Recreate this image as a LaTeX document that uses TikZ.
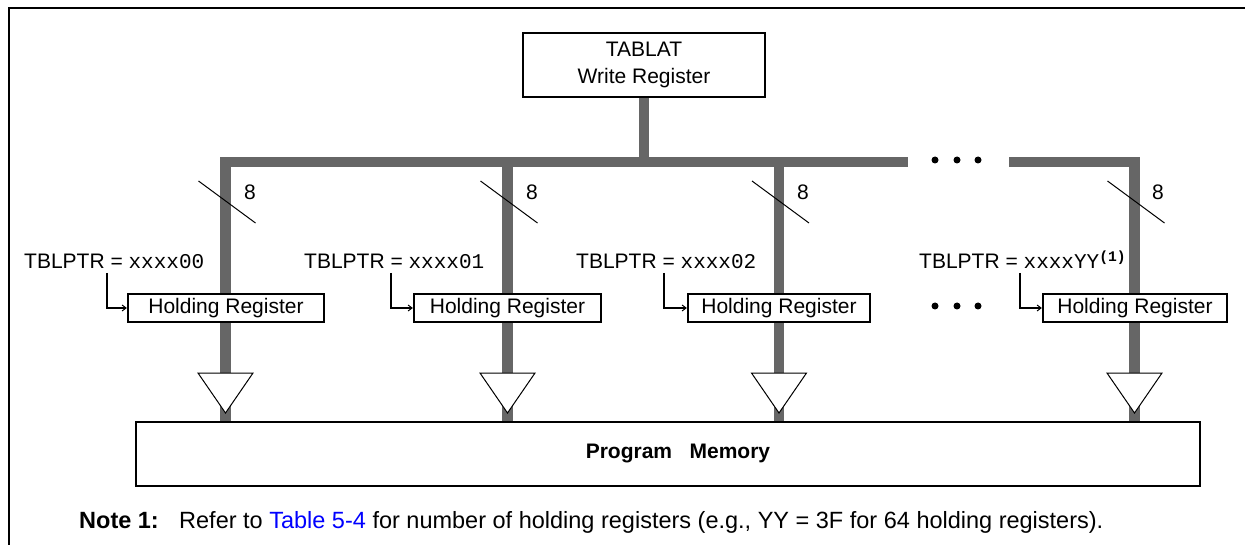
\documentclass[tikz,border=0pt]{standalone}
\usepackage{fontspec}
\setmainfont{Liberation Sans}
\setmonofont{Liberation Mono}
\usetikzlibrary{arrows.meta}
\definecolor{busgray}{HTML}{666666}
\definecolor{linkblue}{HTML}{0000FF}
\begin{document}
\begin{tikzpicture}[x=1pt,y=-1pt,
  every node/.style={font=\fontsize{21}{25}\selectfont, inner sep=0pt},
  bus/.style={draw=busgray, line width=10.5pt, line join=miter, line cap=butt},
  regbox/.style={draw, line width=2.2pt, fill=white, minimum height=28pt},
  drv/.style={draw, line width=1pt, fill=white, line join=miter},
  slashline/.style={draw, line width=1pt},
  ptr/.style={draw, line width=2pt, -{Straight Barb[length=4pt,width=6pt,line width=1pt]}},
  bigdot/.style={circle, fill=black, minimum size=7pt},
  frameline/.style={draw, line width=2.5pt},
  lbl/.style={anchor=base west},
  notelbl/.style={anchor=base west, font=\fontsize{23.5}{28}\selectfont}
]
\useasboundingbox (0,0) rectangle (1245,545);
% frame
\coordinate (fTL) at (9,8);
\coordinate (fTR) at (1245,8);
\coordinate (fBL) at (9,545);
\draw[frameline] (fTR) -- (fTL) -- (fBL);

% bus coordinates
\coordinate (j0) at (644,162);
\coordinate (c1) at (225.5,162);
\coordinate (c2) at (507.5,162);
\coordinate (c3) at (779,162);
\coordinate (c4) at (1134.5,162);
\coordinate (gL) at (908,162);
\coordinate (gR) at (1009,162);
\coordinate (m1) at (225.5,422);
\coordinate (m2) at (507.5,422);
\coordinate (m3) at (779,422);
\coordinate (m4) at (1134.5,422);
\coordinate (t0) at (644,97);

% buses
\draw[bus] (t0) -- (j0);
\draw[bus] (m1) -- (c1) -- (gL);
\draw[bus] (c2) -- (m2);
\draw[bus] (c3) -- (m3);
\draw[bus] (gR) -- (c4) -- (m4);

% TABLAT register
\node[regbox, minimum width=242pt, minimum height=64pt, align=center] (tab) at (644,65)
  {TABLAT\\[2pt]Write Register};

% holding registers
\node[regbox, minimum width=196pt] (hr1) at (226,308) {Holding Register};
\node[regbox, minimum width=187pt] (hr2) at (507.5,308) {Holding Register};
\node[regbox, minimum width=182pt] (hr3) at (779,308) {Holding Register};
\node[regbox, minimum width=184pt] (hr4) at (1135,308) {Holding Register};

% drivers (triangles)
\foreach \bx in {225.5,507.5,779,1134.5}{
  \draw[drv] (\bx-27.5,373) -- (\bx+27.5,373) -- (\bx,413) -- cycle;
  \draw[slashline] (\bx-27,181) -- (\bx+30,223);
}

% bus width labels
\node (w1) at (250,192.5) {8};
\node (w2) at (532,192.5) {8};
\node (w3) at (803,192.5) {8};
\node (w4) at (1158,192.5) {8};

% pointer labels
\node[lbl] (p1) at (24,269) {TBLPTR = \texttt{xxxx00}};
\node[lbl] (p2) at (304,269) {TBLPTR = \texttt{xxxx01}};
\node[lbl] (p3) at (576,269) {TBLPTR = \texttt{xxxx02}};
\node[lbl] (p4) at (919,269) {TBLPTR = \texttt{xxxxYY}\textsuperscript{\ttfamily\bfseries (1)}};

\coordinate (a1) at (107,273);
\coordinate (a2) at (391,273);
\coordinate (a3) at (664,273);
\coordinate (a4) at (1020,273);
\draw[ptr] (a1) |- (hr1.west);
\draw[ptr] (a2) |- (hr2.west);
\draw[ptr] (a3) |- (hr3.west);
\draw[ptr] (a4) |- (hr4.west);

% ellipsis dots
\foreach \dx [count=\i] in {935,957,978}{
  \node[bigdot] (dt\i) at (\dx,160) {};
  \node[bigdot] (dm\i) at (\dx,306) {};
}

% program memory
\node[draw, line width=2.2pt, minimum width=1064pt, minimum height=64pt] (mem) at (668,454) {};
\node[font=\fontsize{21}{25}\selectfont\bfseries] (memlbl) at (678,453) {Program\ \ \ Memory};

% note
\node[notelbl] (n1) at (79,528) {\textbf{Note 1:}};
\node[notelbl] (n2) at (179,528) {Refer to \textcolor{linkblue}{Table 5-4} for number of holding registers (e.g., YY = 3F for 64 holding registers).};
\end{tikzpicture}
\end{document}
